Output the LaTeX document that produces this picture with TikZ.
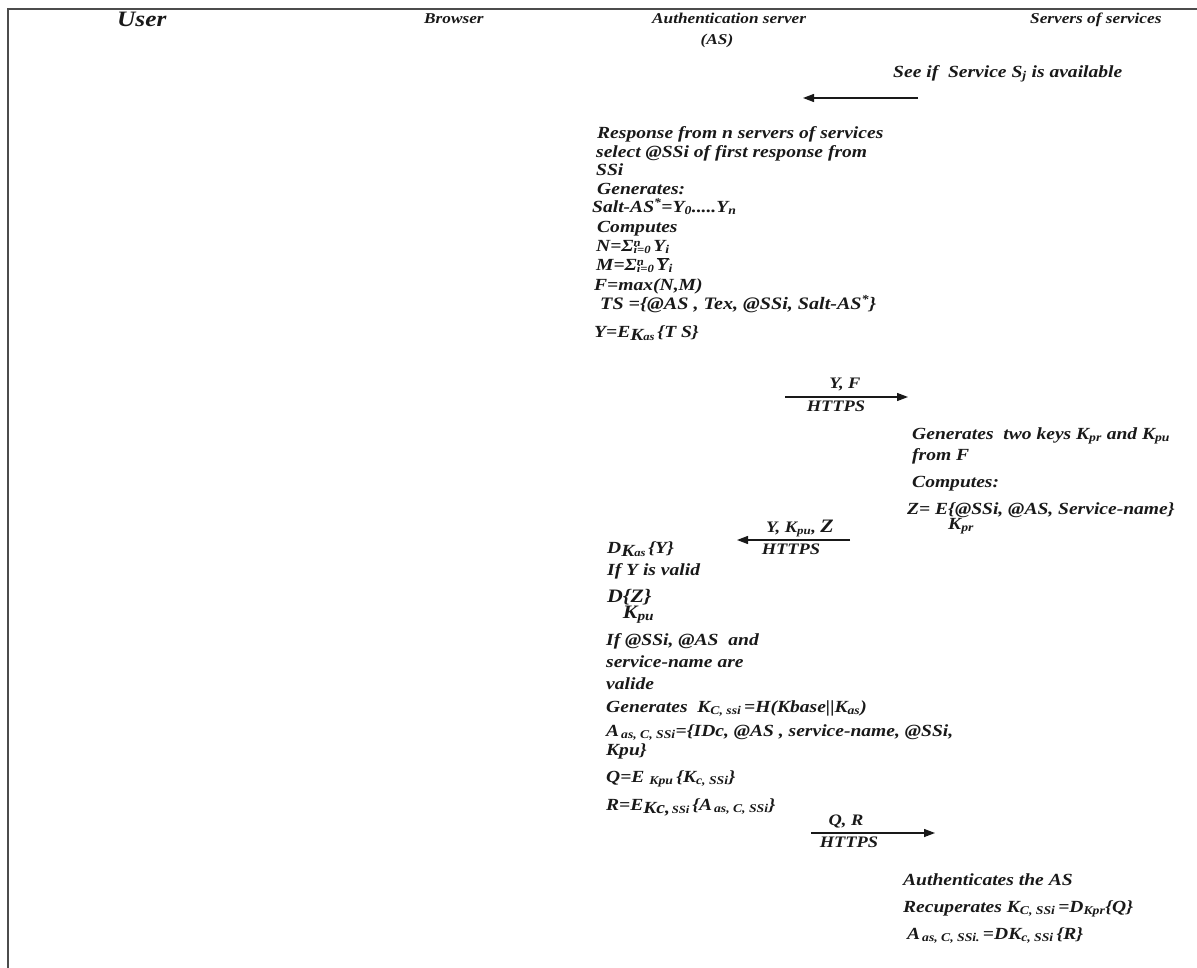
\documentclass[tikz,border=0pt]{standalone}
\usepackage{fontspec}
\setmainfont{Liberation Serif}[FakeStretch=1.15]
\usetikzlibrary{arrows.meta}
\newcommand{\mysmall}{\fontsize{11}{12}\selectfont}
\newcommand{\mysumlim}{Σ\rlap{\raisebox{4.5pt}{\mysmall n}}\raisebox{-2.5pt}{\mysmall i=0}}
\newcommand{\myybar}{\ensuremath{\overline{\mbox{Y}}}}
\tikzset{
  txt/.style={anchor=mid west, inner sep=0pt, text=black!90, font=\fontsize{17}{19}\selectfont\bfseries\itshape},
  hdr/.style={anchor=mid west, inner sep=0pt, text=black!90, font=\fontsize{15}{17}\selectfont\bfseries\itshape},
  lbl/.style={anchor=mid, inner sep=0pt, text=black!90, font=\fontsize{16}{18}\selectfont\bfseries\itshape},
  msg/.style={line width=1.3pt, draw=black!90, -{Triangle[length=11pt,width=8pt]}},
  frameline/.style={line width=1.6pt, draw=black!70}
}
\begin{document}
\begin{tikzpicture}[x=1pt,y=-1pt]
\useasboundingbox (0,0) rectangle (1197,968);
\fill[white] (0,0) rectangle (1197,968);
\draw[frameline] (8,968) -- (8,9) -- (1197,9);

% headers
\node[hdr, font=\fontsize{22}{24}\selectfont\bfseries\itshape] (hUser) at (117,24) {User};
\node[hdr] (hBrowser) at (424,21) {Browser};
\node[hdr] (hAS) at (652,21) {Authentication server};
\node[hdr, anchor=mid] (hAS2) at (717,42) {(AS)};
\node[hdr] (hServ) at (1030,21) {Servers of services};

% first request
\node[txt] (see) at (893,75) {See if\ \ Service S\textsubscript{j} is available};
\coordinate (a1s) at (918,98);
\coordinate (a1e) at (803,98);
\draw[msg] (a1s) -- (a1e);

% AS block 1
\node[txt] (r1) at (597,136) {Response from n servers of services};
\node[txt] (r2) at (596,155) {select @SSi of first response from};
\node[txt] (r3) at (596,173) {SSi};
\node[txt] (r4) at (597,192) {Generates:};
\node[txt] (r5) at (592,210) {Salt-AS\textsuperscript{*}=Y\textsubscript{0}.....Y\textsubscript{n}};
\node[txt] (r6) at (597,230) {Computes};
\node[txt] (r7) at (596,249) {N=\mysumlim\,Y\textsubscript{i}};
\node[txt] (r8) at (596,268) {M=\mysumlim\,\myybar\textsubscript{i}};
\node[txt] (r9) at (594,288) {F=max(N,M)};
\node[txt, font=\fontsize{17.5}{19}\selectfont\bfseries\itshape] (r10) at (600,307) {TS =\{@AS , Tex, @SSi, Salt-AS\textsuperscript{*}\}};
\node[txt] (r11) at (594,335) {Y=E\raisebox{-3pt}{K\mysmall as}\,\{T S\}};

% Y, F message
\coordinate (a2s) at (785,397);
\coordinate (a2e) at (908,397);
\draw[msg] (a2s) -- (a2e);
\node[lbl] (l2a) at (845,386) {Y, F};
\node[lbl] (l2b) at (836,409) {HTTPS};

% server block 1
\node[txt] (s1) at (912,437) {Generates\ \ two keys K\textsubscript{pr} and K\textsubscript{pu}};
\node[txt] (s2) at (912,458) {from F};
\node[txt] (s3) at (912,485) {Computes:};
\node[txt] (s4) at (907,512) {Z= E\rlap{\raisebox{-15pt}{K\textsubscript{pr}}}\{@SSi, @AS, Service-name\}};

% Y, Kpu, Z message
\coordinate (a3s) at (850,540);
\coordinate (a3e) at (737,540);
\draw[msg] (a3s) -- (a3e);
\node[lbl] (l3a) at (800,530) {Y, K\textsubscript{pu}, {\fontsize{19}{20}\selectfont Z}};
\node[lbl] (l3b) at (791,552) {HTTPS};

% AS block 2
\node[txt] (t1) at (607,551) {D\raisebox{-3pt}{K\mysmall as}\,\{Y\}};
\node[txt] (t2) at (607,573) {If Y is valid};
\node[txt, font=\fontsize{19}{21}\selectfont\bfseries\itshape] (t3) at (607,600) {D\rlap{\raisebox{-16pt}{K\textsubscript{pu}}}\{Z\}};
\node[txt] (t4) at (606,643) {If @SSi, @AS\ \ and};
\node[txt] (t5) at (606,665) {service-name are};
\node[txt] (t6) at (606,687) {valide};
\node[txt] (t7) at (606,710) {Generates\ \ K\textsubscript{C, ssi}\,=H(Kbase\textbar\textbar K\textsubscript{as})};
\node[txt] (t8) at (606,734) {A\textsubscript{\,as, C, SSi}=\{IDc, @AS , service-name, @SSi,};
\node[txt] (t9) at (606,753) {Kpu\}};
\node[txt] (t10) at (606,780) {Q=E \textsubscript{Kpu}\,\{K\textsubscript{c, SSi}\}};
\node[txt] (t11) at (606,808) {R=E\raisebox{-3pt}{Kc,\mysmall\,SSi}\,\{A\textsubscript{\,as, C, SSi}\}};

% Q, R message
\coordinate (a4s) at (811,833);
\coordinate (a4e) at (935,833);
\draw[msg] (a4s) -- (a4e);
\node[lbl] (l4a) at (846,823) {Q, R};
\node[lbl] (l4b) at (849,845) {HTTPS};

% server block 2
\node[txt] (u1) at (903,883) {Authenticates the AS};
\node[txt] (u2) at (903,910) {Recuperates K\textsubscript{C, SSi}\,=D\textsubscript{Kpr}\{Q\}};
\node[txt] (u3) at (907,937) {A\textsubscript{\,as, C, SSi.}\,=DK\textsubscript{c, SSi}\,\{R\}};
\end{tikzpicture}
\end{document}
